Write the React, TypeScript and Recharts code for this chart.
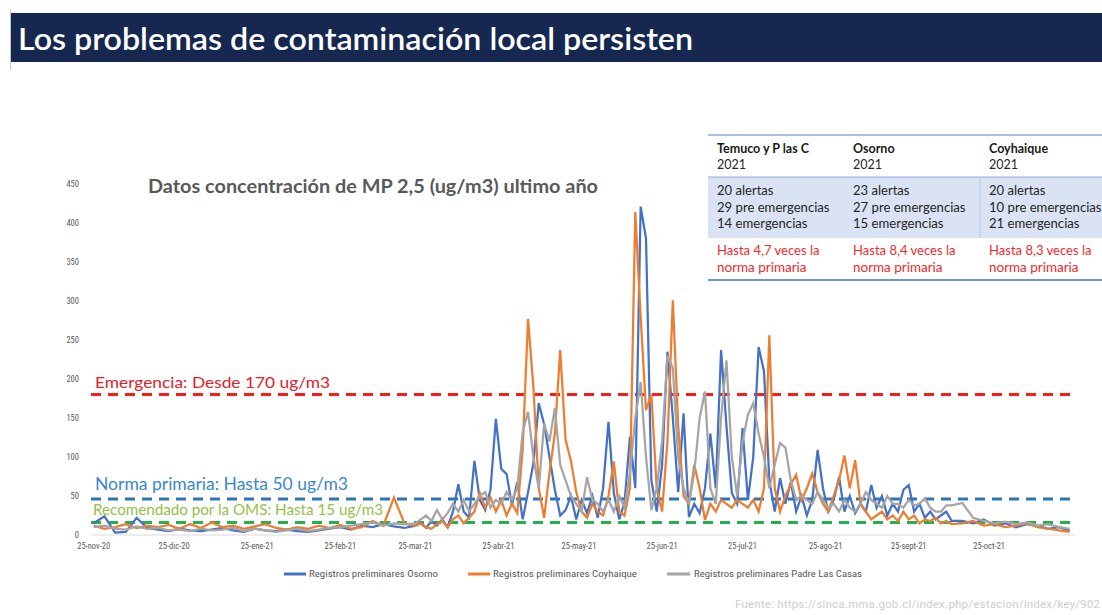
import React from 'react';
import { LineChart, Line, XAxis, YAxis, ReferenceLine } from 'recharts';

// day index counted from 25-nov-20
const days = [
  0, 4, 8, 12, 16, 20, 24, 28, 32, 36, 40, 44, 48, 52, 56, 60, 64, 68, 72, 76, 80, 84, 88, 92, 96, 100, 104, 108, 112, 116,
  120, 122, 124, 126, 128, 130, 132, 134, 136, 138,
  140, 142, 144, 146, 148, 150, 152, 154, 156, 158,
  160, 162, 164, 166, 168, 170, 172, 174, 176, 178,
  180, 182, 184, 186, 188, 190, 192, 194, 196, 198,
  200, 202, 204, 206, 208, 210, 212, 214, 216, 218,
  220, 222, 224, 226, 228, 230, 232, 234, 236, 238,
  240, 242, 244, 246, 248, 250, 252, 254, 256, 258,
  260, 262, 264, 266, 268, 270, 272, 274, 276, 278,
  280, 282, 284, 286, 288, 290, 292, 294, 296, 298,
  300, 302, 304, 306, 308, 310, 312, 314, 316, 318,
  320,
  324, 328, 332, 336, 340, 344, 348, 352, 356, 360, 364,
];

const osorno = [
  15, 24, 3, 4, 22, 9, 7, 5, 8, 6, 5, 7, 9, 6, 4, 8, 6, 5, 7, 5, 4, 6, 8, 10, 7, 12, 10, 14, 11, 9,
  12, 15, 9, 18, 12, 20, 10, 30, 65, 30,
  22, 95, 45, 32, 58, 149, 85, 78, 38, 68,
  20, 55, 92, 169, 142, 100, 58, 25, 32, 50,
  20, 45, 28, 50, 22, 60, 145, 54, 20, 42,
  126, 60, 421, 380, 70, 30, 90, 235, 150, 55,
  156, 23, 40, 28, 60, 130, 60, 237, 140, 54,
  40, 137, 45, 100, 241, 210, 70, 30, 73, 40,
  68, 30, 50, 25, 45, 109, 60, 30, 45, 74,
  30, 50, 28, 40, 30, 64, 35, 50, 25, 40,
  30, 58, 64, 30, 40, 22, 30, 20, 25, 30,
  18,
  18, 15, 20, 12, 15, 10, 14, 12, 8, 10, 6,
];

const coyhaique = [
  12, 8, 10, 14, 9, 12, 10, 13, 8, 14, 9, 16, 10, 12, 8, 11, 14, 9, 7, 10, 8, 12, 9, 13, 8, 10, 18, 12, 48, 14,
  12, 15, 10, 8, 14, 18, 10, 20, 25, 15,
  22, 30, 54, 35, 48, 30, 45, 25, 40, 28,
  110, 277, 190, 60, 22, 80, 130, 237, 122, 95,
  55, 30, 22, 40, 30, 25, 50, 94, 30, 25,
  60, 414, 280, 160, 180, 60, 30, 120, 301, 140,
  50, 40, 90, 60, 19, 40, 30, 45, 40, 35,
  45, 40, 35, 45, 30, 60, 256, 60, 30, 50,
  65, 77, 45, 60, 79, 55, 40, 30, 50, 70,
  102, 60, 96, 40, 30, 20, 25, 30, 20, 25,
  18, 30, 20, 25, 15, 20, 18, 22, 15, 18,
  14,
  15, 18, 12, 14, 10, 12, 15, 10, 8, 6, 4,
];

const padreLasCasas = [
  10, 12, 8, 7, 11, 8, 9, 6, 7, 5, 8, 6, 7, 9, 5, 8, 6, 4, 6, 8, 5, 7, 9, 10, 12, 14, 16, 12, 15, 14,
  15, 20, 25, 18, 32, 20, 28, 40, 30, 45,
  30, 40, 50, 55, 35, 45, 40, 55, 45, 60,
  132, 158, 100, 60, 143, 120, 163, 90, 70, 50,
  40, 30, 74, 45, 40, 30, 45, 30, 50, 35,
  80, 150, 196, 100, 32, 60, 120, 230, 214, 100,
  60, 40, 80, 150, 184, 60, 40, 150, 224, 100,
  50, 120, 154, 169, 130, 100, 60, 90, 118, 112,
  70, 45, 50, 45, 40, 55, 45, 35, 40, 30,
  45, 35, 30, 40, 55, 45, 40, 35, 50, 40,
  40, 35, 45, 38, 40, 47, 35, 30, 30, 38,
  38,
  41, 22, 18, 15, 17, 14, 16, 12, 14, 10, 8,
];

const tickDays = [0, 30, 61, 92, 120, 151, 181, 212, 242, 273, 304, 334];
const tickLabels = ['25-nov-20', '25-dic-20', '25-ene-21', '25-feb-21', '25-mar-21', '25-abr-21', '25-may-21', '25-jun-21', '25-jul-21', '25-ago-21', '25-sept-21', '25-oct-21'];
const yTicks = [0, 50, 100, 150, 200, 250, 300, 350, 400, 450];

const seriesNames = ['Registros preliminares Osorno', 'Registros preliminares Coyhaique', 'Registros preliminares Padre Las Casas'];
const limitValues = [180, 46, 16];
const limitLabels = ['Emergencia: Desde 170 ug/m3', 'Norma primaria: Hasta 50 ug/m3', 'Recomendado por la OMS: Hasta 15 ug/m3'];

const tableCities = ['Temuco y P las C', 'Osorno', 'Coyhaique'];
const tableYear = '2021';
const tableAlertas = ['20 alertas', '23 alertas', '20 alertas'];
const tablePre = ['29 pre emergencias', '27 pre emergencias', '10 pre emergencias'];
const tableEmerg = ['14 emergencias', '15 emergencias', '21 emergencias'];
const tableVeces = ['Hasta 4,7 veces la', 'Hasta 8,4 veces la', 'Hasta 8,3 veces la'];
const tableNorma = 'norma primaria';

const data = days.map((d, i) => ({
  day: d,
  osorno: osorno[i],
  coyhaique: coyhaique[i],
  plc: padreLasCasas[i],
}));

const COLORS = ['#4472c4', '#ed7d31', '#a5a5a5'];
const FONT = 'Lato, "Open Sans", sans-serif';
const NARROW = '"Liberation Sans Narrow", "Roboto Condensed", Roboto, sans-serif';

export default function App() {
  const colX = [717, 853, 989];
  return (
    <div style={{ position: 'absolute', left: 0, top: 0, width: 1102, height: 615, background: '#ffffff', overflow: 'hidden' }}>
      <div style={{ position: 'absolute', left: 0, top: 0 }}>
        <LineChart width={1102} height={615} data={data} margin={{ top: 184, right: 27, bottom: 50, left: 51 }}>
          <XAxis
            dataKey="day"
            type="number"
            domain={[-1, 366]}
            ticks={tickDays}
            tickFormatter={(v: number) => tickLabels[tickDays.indexOf(v)] ?? ''}
            interval={0}
            height={30}
            axisLine={{ stroke: '#d9d9d9', strokeWidth: 1 }}
            tickLine={false}
            tick={{ fontSize: 8.5, fill: '#595959', fontFamily: NARROW }}
          />
          <YAxis
            type="number"
            domain={[0, 450]}
            ticks={yTicks}
            width={40}
            axisLine={false}
            tickLine={false}
            tickMargin={6}
            tick={{ fontSize: 8.5, fill: '#595959', fontFamily: NARROW }}
          />
          <ReferenceLine y={limitValues[0]} stroke="#ff1a1a" strokeWidth={3} strokeDasharray="10 7" />
          <ReferenceLine y={limitValues[1]} stroke="#2e75b6" strokeWidth={3} strokeDasharray="10 7" />
          <ReferenceLine y={limitValues[2]} stroke="#22b14c" strokeWidth={3} strokeDasharray="10 7" />
          <Line type="linear" dataKey="osorno" stroke={COLORS[0]} strokeWidth={2.25} dot={false} isAnimationActive={false} />
          <Line type="linear" dataKey="coyhaique" stroke={COLORS[1]} strokeWidth={2.25} dot={false} isAnimationActive={false} />
          <Line type="linear" dataKey="plc" stroke={COLORS[2]} strokeWidth={2.25} dot={false} isAnimationActive={false} />
        </LineChart>
      </div>
      <svg width={1102} height={615} style={{ position: 'absolute', left: 0, top: 0, pointerEvents: 'none' }}>
        {/* title bar */}
        <rect x={10} y={13} width={1092} height={49} fill="#16284f" />
        <line x1={10.5} y1={10} x2={10.5} y2={70} stroke="#c8c8c8" strokeWidth={1} />
        <text x={18} y={50} fill="#ffffff" fontFamily={FONT} fontWeight={600} fontSize={30} textLength={675} lengthAdjust="spacingAndGlyphs">
          Los problemas de contaminación local persisten
        </text>

        {/* chart title */}
        <text x={148} y={193} fill="#595959" fontFamily={FONT} fontWeight={700} fontSize={18} textLength={450} lengthAdjust="spacingAndGlyphs">
          Datos concentración de MP 2,5 (ug/m3) ultimo año
        </text>

        {/* limit annotations */}
        <text x={95} y={388} fill="#e0202a" fontFamily={FONT} fontSize={16} textLength={235} lengthAdjust="spacingAndGlyphs">
          {limitLabels[0]}
        </text>
        <text x={95} y={490} fill="#3a86d0" fontFamily={FONT} fontSize={17} textLength={253} lengthAdjust="spacingAndGlyphs">
          {limitLabels[1]}
        </text>
        <text x={93} y={515} fill="#93c047" fontFamily={FONT} fontSize={15} textLength={290} lengthAdjust="spacingAndGlyphs">
          {limitLabels[2]}
        </text>

        {/* table */}
        <line x1={708} y1={135} x2={1102} y2={135} stroke="#8eaadb" strokeWidth={1.5} />
        <rect x={708} y={177} width={394} height={61} fill="#dae3f3" />
        <line x1={708} y1={177} x2={1102} y2={177} stroke="#8eaadb" strokeWidth={1.2} />
        <line x1={980} y1={177} x2={980} y2={238} stroke="#b4c6e7" strokeWidth={1} />
        <line x1={708} y1={280} x2={1102} y2={280} stroke="#4472c4" strokeWidth={1.5} />
        {tableCities.map((c, i) => (
          <g key={c}>
            <text x={colX[i]} y={153} fill="#1a1a1a" fontFamily={FONT} fontWeight={700} fontSize={12.5}>{c}</text>
            <text x={colX[i]} y={169} fill="#262626" fontFamily={FONT} fontSize={12.5}>{tableYear}</text>
            <text x={colX[i]} y={195} fill="#262626" fontFamily={FONT} fontSize={12.5} textLength={56.5} lengthAdjust="spacingAndGlyphs">{tableAlertas[i]}</text>
            <text x={colX[i]} y={211.5} fill="#262626" fontFamily={FONT} fontSize={12.5} textLength={112.5} lengthAdjust="spacingAndGlyphs">{tablePre[i]}</text>
            <text x={colX[i]} y={228} fill="#262626" fontFamily={FONT} fontSize={12.5} textLength={90.5} lengthAdjust="spacingAndGlyphs">{tableEmerg[i]}</text>
            <text x={colX[i]} y={255} fill="#ee2b2b" fontFamily={FONT} fontSize={12.5} textLength={102.5} lengthAdjust="spacingAndGlyphs">{tableVeces[i]}</text>
            <text x={colX[i]} y={271.5} fill="#ee2b2b" fontFamily={FONT} fontSize={12.5} textLength={89.5} lengthAdjust="spacingAndGlyphs">{tableNorma}</text>
          </g>
        ))}

        {/* legend */}
        <line x1={284} y1={574} x2={306} y2={574} stroke={COLORS[0]} strokeWidth={3} />
        <text x={309} y={577} fill="#595959" fontFamily={NARROW} fontSize={8.5} textLength={129} lengthAdjust="spacingAndGlyphs">{seriesNames[0]}</text>
        <line x1={468} y1={574} x2={490} y2={574} stroke={COLORS[1]} strokeWidth={3} />
        <text x={493} y={577} fill="#595959" fontFamily={NARROW} fontSize={8.5} textLength={144} lengthAdjust="spacingAndGlyphs">{seriesNames[1]}</text>
        <line x1={667} y1={574} x2={690} y2={574} stroke={COLORS[2]} strokeWidth={3} />
        <text x={694} y={577} fill="#595959" fontFamily={NARROW} fontSize={8.5} textLength={168} lengthAdjust="spacingAndGlyphs">{seriesNames[2]}</text>

        {/* source */}
        <text x={735} y={608} fill="#d0d0d0" fontFamily={NARROW} fontSize={11} textLength={365} lengthAdjust="spacingAndGlyphs">
          Fuente: https://sinca.mma.gob.cl/index.php/estacion/index/key/902
        </text>
      </svg>
    </div>
  );
}
